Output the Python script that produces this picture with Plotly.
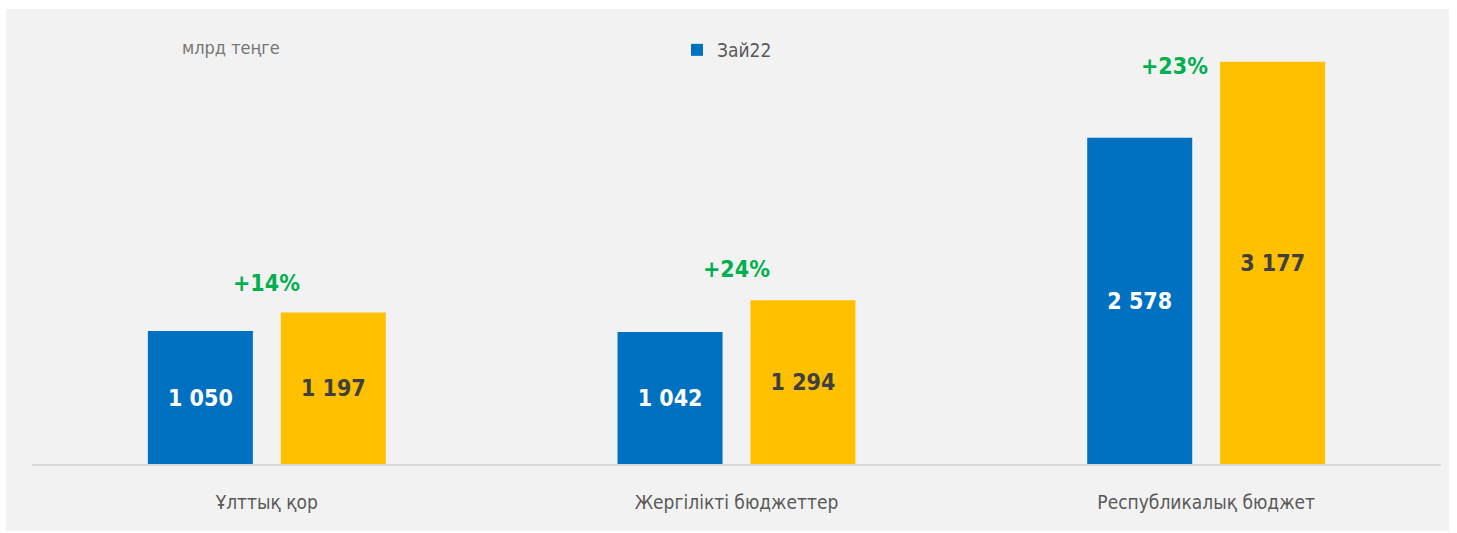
import plotly.graph_objects as go

categories = ["Ұлттық қор", "Жергілікті бюджеттер", "Республикалық бюджет"]
values_22 = [1050, 1042, 2578]
values_23 = [1197, 1294, 3177]
growth_labels = ["+14%", "+24%", "+23%"]
series_names = ["Зай22", "Зай23"]
unit_label = "млрд теңге"

FONT = "'DejaVu Sans Condensed', 'Liberation Sans Narrow', 'Roboto', sans-serif"
BLUE = "#0070c0"
YELLOW = "#ffc000"
GREEN = "#00b050"
PANEL = "#f2f2f2"

# plot area in pixels
W, H = 1457, 533
L, R = 32, 1441
T, B = 20, 464
pw, ph = R - L, B - T

fig = go.Figure()
fig.add_trace(go.Bar(
    x=categories, y=values_22, name=series_names[0],
    marker=dict(color=BLUE, line=dict(width=0)),
    texttemplate="%{y:,.0f}", textposition="inside", insidetextanchor="middle",
    textangle=0,
    textfont=dict(family=FONT, size=23, color="white", weight="bold"),
    showlegend=True,
))
fig.add_trace(go.Bar(
    x=categories, y=values_23, name=series_names[1],
    marker=dict(color=YELLOW, line=dict(width=0)),
    texttemplate="%{y:,.0f}", textposition="inside", insidetextanchor="middle",
    textangle=0,
    textfont=dict(family=FONT, size=23, color="#404040", weight="bold"),
    showlegend=False,
))

# growth annotations
xshifts = [0, 0, -32]
yshifts = [29, 31, 4]
for i, (c, v, g) in enumerate(zip(categories, values_23, growth_labels)):
    fig.add_annotation(
        x=c, y=v, text=g, showarrow=False, xref="x", yref="y",
        xshift=xshifts[i], yshift=yshifts[i] - (8 if i == 2 else 0),
        xanchor="center", yanchor="middle",
        font=dict(family=FONT, size=23, color=GREEN, weight="bold"),
    )

fig.add_annotation(
    x=(180 - L) / pw, y=(B - 47) / ph, xref="paper", yref="paper",
    text=unit_label, showarrow=False, xanchor="left", yanchor="middle",
    font=dict(family=FONT, size=18, color="#767676"),
)

# gray panel
fig.add_shape(
    type="rect", xref="paper", yref="paper", layer="below",
    x0=(6 - L) / pw, x1=(1449 - L) / pw,
    y0=(B - 531) / ph, y1=(B - 9) / ph,
    fillcolor=PANEL, line=dict(width=0),
)

fig.update_layout(
    width=W, height=H,
    margin=dict(l=L, r=W - R, t=T, b=H - B, pad=0),
    paper_bgcolor="white",
    plot_bgcolor="rgba(0,0,0,0)",
    barmode="group",
    bargap=0.434,
    bargroupgap=0.21,
    separators=". ",
    legend=dict(
        orientation="h", x=(677 - L) / pw, y=(B - 50) / ph,
        xanchor="left", yanchor="middle",
        font=dict(family=FONT, size=19, color="#595959"),
        bgcolor="rgba(0,0,0,0)",
    ),
    font=dict(family=FONT),
)
fig.update_xaxes(
    showline=True, linecolor="#d9d9d9", linewidth=2,
    showgrid=False, ticks="",
    tickfont=dict(family=FONT, size=19, color="#595959"),
    ticklabelstandoff=20,
)
fig.update_yaxes(
    range=[0, ph / 0.1266], visible=False, showgrid=False, zeroline=False,
)

fig.write_html("out.html")
